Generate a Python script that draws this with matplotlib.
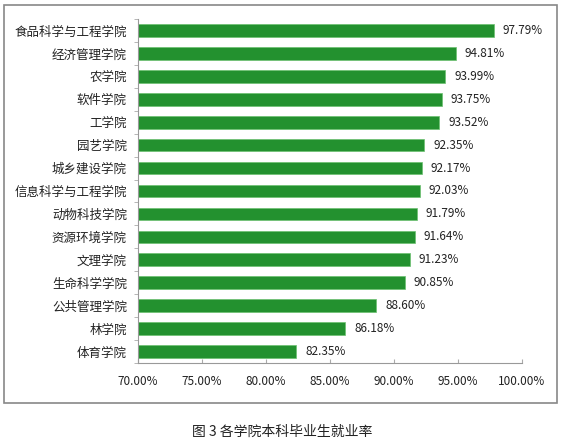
import matplotlib
matplotlib.use('Agg')
import matplotlib.pyplot as plt
from matplotlib.patches import Rectangle

plt.rcParams['font.family'] = ['Noto Sans CJK SC', 'DejaVu Sans']

colleges = ['食品科学与工程学院', '经济管理学院', '农学院', '软件学院', '工学院',
            '园艺学院', '城乡建设学院', '信息科学与工程学院', '动物科技学院',
            '资源环境学院', '文理学院', '生命科学学院', '公共管理学院', '林学院', '体育学院']
rates = [97.79, 94.81, 93.99, 93.75, 93.52, 92.35, 92.17, 92.03, 91.79,
         91.64, 91.23, 90.85, 88.60, 86.18, 82.35]
xticks = [70, 75, 80, 85, 90, 95, 100]
caption = '图 3 各学院本科毕业生就业率'

fig = plt.figure(figsize=(5.64, 4.41), dpi=100)
ax = fig.add_axes([0.2447, 0.1769, 0.6809, 0.78])

y = list(range(len(colleges)))
base = 70
ax.barh(y, [r - base for r in rates], left=base, height=0.55,
        color='#23912f', edgecolor='#6cc070', linewidth=0.5)

for yi, r in zip(y, rates):
    ax.text(r + 0.7, yi, '%.2f%%' % r, va='center', ha='left', fontsize=8.5, color='#222222')

ax.set_xlim(70, 100)
ax.set_ylim(len(colleges) - 0.5, -0.5)
ax.set_xticks(xticks)
ax.set_xticklabels(['%.2f%%' % t for t in xticks], fontsize=8.5, color='#222222')
ax.set_yticks(y)
ax.set_yticklabels(colleges, fontsize=9, color='#222222')
ax.set_yticks([i - 0.5 for i in range(len(colleges) + 1)], minor=True)
ax.tick_params(axis='y', which='major', length=0, pad=8)
ax.tick_params(axis='y', which='minor', length=3, color='#aaaaaa', direction='out')
ax.tick_params(axis='x', length=3, color='#aaaaaa', direction='in', pad=9)

for s in ['top', 'right']:
    ax.spines[s].set_visible(False)
for s in ['left', 'bottom']:
    ax.spines[s].set_color('#999999')
    ax.spines[s].set_linewidth(0.8)

fig.patches.append(Rectangle((4 / 564, 1 - 403 / 441), 553 / 564, 398 / 441,
                             transform=fig.transFigure, fill=False,
                             edgecolor='#888888', linewidth=1.2))

fig.text(0.5, 1 - 432 / 441, caption, ha='center', va='center', fontsize=10, color='#222222')

fig.savefig('out.png', dpi=100)
